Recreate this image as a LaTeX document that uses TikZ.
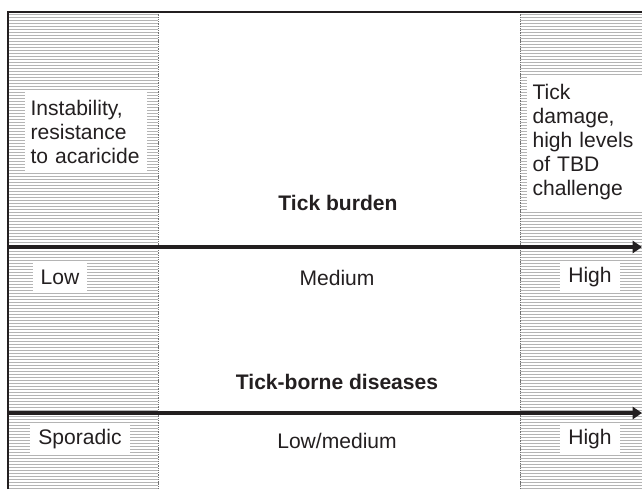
\documentclass[tikz,border=0pt]{standalone}
\usepackage{fontspec}
\setsansfont{Liberation Sans}
\usepackage{xcolor}
\usepackage{tikz}
\usetikzlibrary{backgrounds,arrows.meta}
\definecolor{tbInk}{HTML}{231F20}
\definecolor{tbHatch}{HTML}{B4B4B4}
\definecolor{tbEdge}{HTML}{707070}
\hyphenpenalty=10000

\begin{document}
\begin{tikzpicture}[
  x=0.75pt, y=-0.75pt,
  font=\sffamily\fontsize{15.8}{18}\selectfont, text=tbInk,
  note/.style={fill=white, align=left, anchor=north west, inner xsep=4pt, inner ysep=7pt},
  level/.style={fill=white, inner xsep=6pt, inner ysep=0pt, minimum height=23pt},
  axistitle/.style={font=\sffamily\bfseries\fontsize{15.8}{18}\selectfont},
  axis/.style={-{Triangle[length=7pt,width=9pt]}, line width=3.2pt, draw=tbInk},
  hatch/.style={draw=tbHatch, line width=0.75pt},
  band/.style={draw=tbEdge, line width=0.7pt, dash pattern=on 1pt off 0.7pt},
]
\useasboundingbox (0,0) rectangle (642,489);

% ── Frame (left and top only, cut off by the page on the other sides) ───────
\draw[tbInk, line width=0.8pt] (8,489) -- (8,12) -- (642,12);

% ── Side notes ───────────────────────────────────────────────────────────────
\node[note, text width=83pt] (instab) at (25,91) {Instability,\\resistance\\to acaricide};
\node[note, text width=78pt] (damage) at (527,75) {Tick\\damage,\\high levels\\of TBD\\challenge};

% ── Tick burden axis ─────────────────────────────────────────────────────────
\node[axistitle] (tburden) at (338,203) {Tick burden};
\coordinate (tbL) at (8,247);
\coordinate (tbR) at (642,247);
\draw[axis] (tbL) -- (tbR);
\node[level] (lowTB)  at (60,277)  {Low};
\node        (medTB)  at (337,278) {Medium};
\node[level] (highTB) at (590,277) {High};

% ── Tick-borne diseases axis ─────────────────────────────────────────────────
\node[axistitle] (tbdis) at (337,382) {Tick-borne diseases};
\coordinate (tbdL) at (8,413);
\coordinate (tbdR) at (642,413);
\draw[axis] (tbdL) -- (tbdR);
\node[level] (sporTBD)   at (80,439)  {Sporadic};
\node        (lowmedTBD) at (337,441) {Low/medium};
\node[level] (highTBD)   at (590,439) {High};

% ── Background: hatched bands at both ends ───────────────────────────────────
\begin{scope}[on background layer]
  \foreach \y in {14,17,...,488}{
    \draw[hatch] (8.5,\y) -- (158,\y);
    \draw[hatch] (520,\y) -- (642,\y);
  }
  \draw[band] (158,12) -- (158,489);
  \draw[band] (520,12) -- (520,489);
\end{scope}

\end{tikzpicture}
\end{document}
